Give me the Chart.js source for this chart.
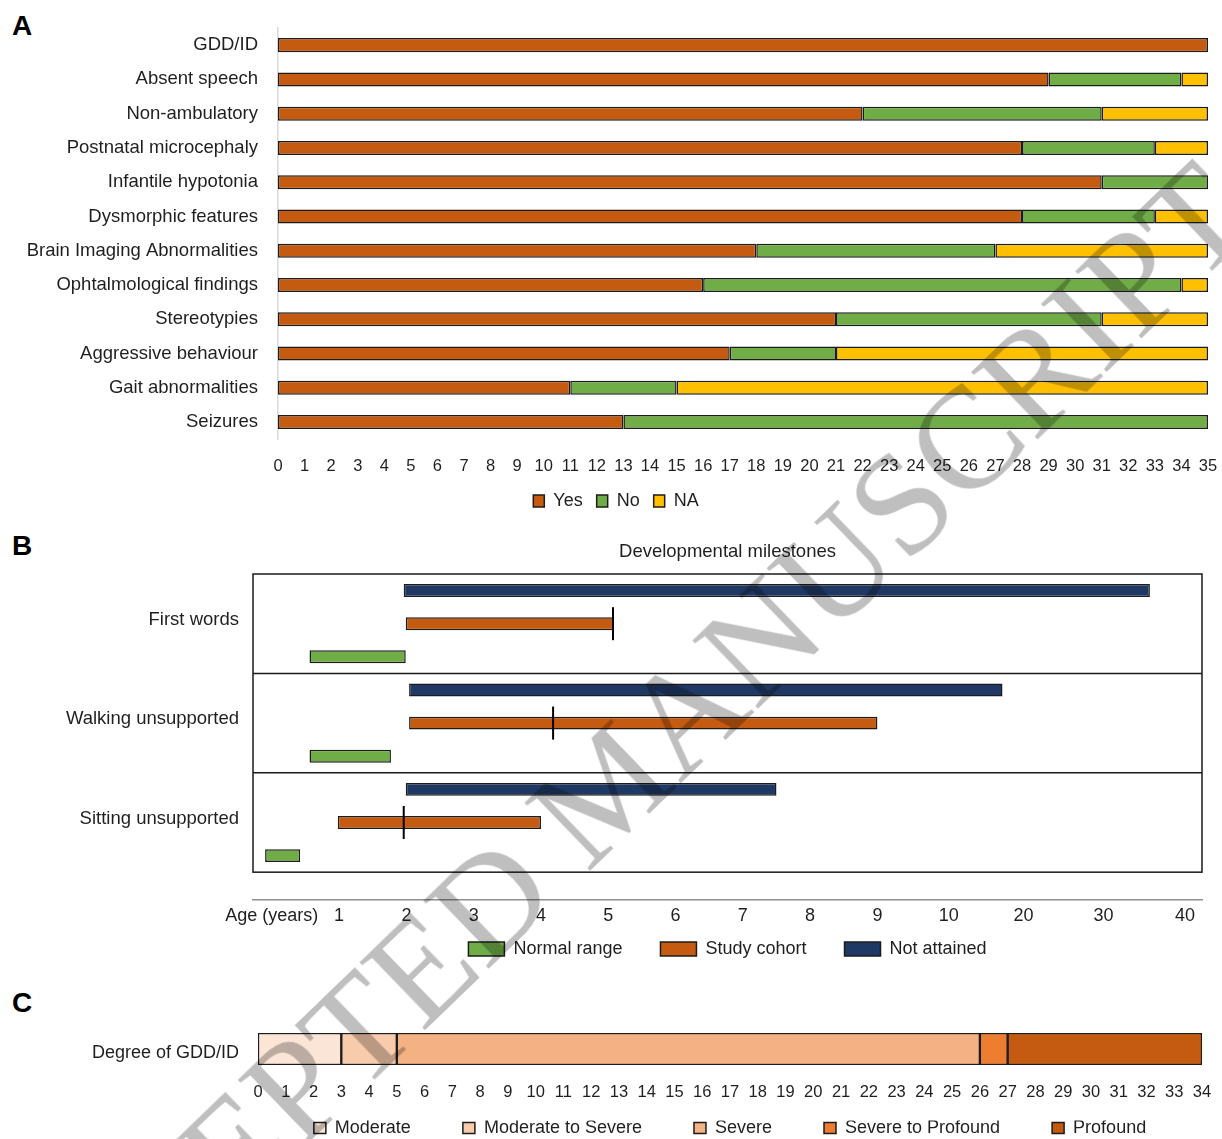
<!DOCTYPE html>
<html>
<head>
<meta charset="utf-8">
<script src="https://cdn.jsdelivr.net/npm/chart.js@4.4.1/dist/chart.umd.min.js"></script>
<style>
  html, body { margin: 0; padding: 0; background: #fff; width: 1222px; height: 1139px; overflow: hidden; }
  .panel { position: absolute; left: 0; width: 1222px; }
  .letter { position: absolute; left: 12px; font: bold 28px "Liberation Sans", Arial, sans-serif; color: #000; }
  #watermark {
    position: absolute; left: 607px; top: 787px;
    transform: translate(-50%, -50%) rotate(-44deg);
    font: 145px "Liberation Serif", "Times New Roman", serif;
    color: #bfbfbf; white-space: nowrap; line-height: 1;
    mix-blend-mode: multiply; pointer-events: none;
  }
</style>
</head>
<body>
<div class="letter" style="top:10px">A</div>
<div class="letter" style="top:530px">B</div>
<div class="letter" style="top:987px">C</div>

<div class="panel" style="top:0;height:520px"><canvas id="chartA"></canvas></div>
<div class="panel" style="top:530px;height:438px"><canvas id="chartB"></canvas></div>
<div class="panel" style="top:1020px;height:127px"><canvas id="chartC"></canvas></div>

<div id="watermark">ACCEPTED MANUSCRIPT</div>

<script>
// --- Données panneau A : caractéristiques cliniques (nombre de patients) ---
const featureLabels = ["GDD/ID", "Absent speech", "Non-ambulatory", "Postnatal microcephaly",
    "Infantile hypotonia", "Dysmorphic features", "Brain Imaging Abnormalities",
    "Ophtalmological findings", "Stereotypies", "Aggressive behaviour", "Gait abnormalities", "Seizures"];
const featureYes = [35, 29, 22, 28, 31, 28, 18, 16, 21, 17, 11, 13];
const featureNo  = [0, 5, 9, 5, 4, 5, 9, 18, 10, 4, 4, 22];
const featureNA  = [0, 1, 4, 2, 0, 2, 8, 1, 4, 14, 20, 0];
const patientMax = 35;

// --- Données panneau B : étapes du développement (âge en années) ---
const milestoneLabels = ["First words", "Walking unsupported", "Sitting unsupported"];
const normalStart = [0.56, 0.56, -0.1];
const normalEnd   = [1.99, 1.77, 0.42];
const cohortStart = [1.99, 2.04, 0.98];
const cohortEnd   = [5.08, 9.0, 4.0];
const cohortMedian = [5.07, 4.18, 1.96];
const notAttainedStart = [1.96, 2.04, 1.99];
const notAttainedEnd   = [35.7, 17.2, 7.5];
const ageTicks = [0, 1, 2, 3, 4, 5, 6, 7, 8, 9, 10, 20, 30, 40];
const ageTickLabels = ["Age (years)", "1", "2", "3", "4", "5", "6", "7", "8", "9", "10", "20", "30", "40"];

// --- Données panneau C : degré de GDD/ID ---
const gddLevels = ["Moderate", "Moderate to Severe", "Severe", "Severe to Profound", "Profound"];
const gddCounts = [3, 2, 21, 1, 7];
const gddMax = 34;

const FONT = '"Liberation Sans", Arial, Helvetica, sans-serif';
const TEXT = "#1f1f1f";
const EDGE = "#1c1c1c";
Chart.defaults.font.family = FONT;
Chart.defaults.color = TEXT;

// pas de marge automatique autour des axes (les libellés débordent volontairement)
const noEdgePadding = s => {
    s.paddingLeft = 0; s.paddingRight = 0; s.paddingTop = 0; s.paddingBottom = 0;
};
// titre de légende vide, sert seulement à remonter la ligne de légende
const legendLift = lift => ({
    display: true, text: "", font: { size: 10 }, padding: { top: 0, bottom: -(12 + lift) }
});

/* --- Échelle d'âge : linéaire jusqu'à 10 ans, puis compressée (10, 20, 30, 40) --- */
const ageAxisSpacing = [0, 1, 2, 3, 4, 5, 6, 7, 8, 9, 10.06, 11.17, 12.36, 13.57];

function ageToAxis(v) {
    const n = ageTicks.length;
    if (v <= ageTicks[0]) return ageAxisSpacing[0] + (v - ageTicks[0]);
    for (let i = 1; i < n; i++) {
        if (v <= ageTicks[i]) {
            const t = (v - ageTicks[i - 1]) / (ageTicks[i] - ageTicks[i - 1]);
            return ageAxisSpacing[i - 1] + t * (ageAxisSpacing[i] - ageAxisSpacing[i - 1]);
        }
    }
    const slope = (ageAxisSpacing[n - 1] - ageAxisSpacing[n - 2]) / (ageTicks[n - 1] - ageTicks[n - 2]);
    return ageAxisSpacing[n - 1] + (v - ageTicks[n - 1]) * slope;
}

class AgeScale extends Chart.LinearScale {
    static id = "age";
    static defaults = {};
    buildTicks() {
        return ageTicks.map(value => ({ value }));
    }
    getPixelForValue(value) {
        const a = ageToAxis(this.min);
        const b = ageToAxis(this.max);
        return this.getPixelForDecimal((ageToAxis(value) - a) / (b - a));
    }
}
Chart.register(AgeScale);

/* --- 1. Panneau A --- */
new Chart(document.getElementById("chartA"), {
    type: "bar",
    data: {
        labels: featureLabels,
        datasets: [
            { label: "Yes", data: featureYes, backgroundColor: "#C55A11" },
            { label: "No", data: featureNo, backgroundColor: "#70AD47" },
            { label: "NA", data: featureNA, backgroundColor: "#FFC000" }
        ]
    },
    options: {
        indexAxis: "y",
        animation: false,
        responsive: true,
        maintainAspectRatio: false,
        layout: { padding: { left: 24, right: 14, top: 28, bottom: 0 } },
        datasets: {
            bar: { borderColor: EDGE, borderWidth: 1.5, borderSkipped: false, categoryPercentage: 0.5, barPercentage: 0.82 }
        },
        scales: {
            x: {
                stacked: true, min: 0, max: patientMax,
                ticks: { stepSize: 1, autoSkip: false, maxRotation: 0, padding: 17, font: { size: 16.5 } },
                grid: { display: false, drawTicks: false },
                border: { display: false },
                afterFit: noEdgePadding
            },
            y: {
                stacked: true,
                ticks: { padding: 20, font: { size: 18.5 } },
                grid: { display: false, drawTicks: false },
                border: { color: "#d9d9d9", width: 1.5 },
                afterFit: s => { noEdgePadding(s); s.width = 254; }
            }
        },
        plugins: {
            legend: {
                position: "bottom",
                title: legendLift(15),
                labels: { boxWidth: 11, boxHeight: 12, padding: 14, font: { size: 18 } }
            },
            tooltip: { enabled: false }
        }
    }
});

/* --- 2. Panneau B --- */
// cadre et séparateurs entre les étapes
const milestoneFrame = {
    id: "milestoneFrame",
    beforeDatasetsDraw(chart) {
        const { ctx, chartArea, scales: { y } } = chart;
        const top = y.getPixelForValue(-0.5);
        const bottom = y.getPixelForValue(milestoneLabels.length - 0.5);
        ctx.save();
        ctx.strokeStyle = "#1a1a1a";
        ctx.lineWidth = 1.5;
        ctx.strokeRect(chartArea.left, top, chartArea.right - chartArea.left, bottom - top);
        for (let i = 1; i < milestoneLabels.length; i++) {
            const py = y.getPixelForValue(i - 0.5);
            ctx.beginPath();
            ctx.moveTo(chartArea.left, py);
            ctx.lineTo(chartArea.right, py);
            ctx.stroke();
        }
        ctx.restore();
    }
};

const rows = milestoneLabels.map((_, i) => i);

new Chart(document.getElementById("chartB"), {
    type: "bar",
    data: {
        datasets: [
            {
                label: "Not attained", backgroundColor: "#203864",
                data: rows.map(i => ({ x: [notAttainedStart[i], notAttainedEnd[i]], y: i }))
            },
            {
                label: "Study cohort", backgroundColor: "#C55A11",
                data: rows.map(i => ({ x: [cohortStart[i], cohortEnd[i]], y: i }))
            },
            {
                label: "Normal range", backgroundColor: "#70AD47",
                data: rows.map(i => ({ x: [normalStart[i], normalEnd[i]], y: i }))
            },
            {
                type: "scatter", label: "Median", order: -1,
                data: rows.map(i => ({ x: cohortMedian[i], y: i })),
                pointStyle: "line", pointRotation: 90, pointRadius: 16.5, pointHoverRadius: 16.5,
                pointBorderColor: "#000", pointBorderWidth: 2, showLine: false
            }
        ]
    },
    options: {
        indexAxis: "y",
        animation: false,
        responsive: true,
        maintainAspectRatio: false,
        layout: { padding: { left: 0, right: 20, top: 0, bottom: 0 } },
        datasets: {
            bar: { borderColor: EDGE, borderWidth: 1.5, borderSkipped: false, categoryPercentage: 1, barPercentage: 0.39 }
        },
        scales: {
            x: {
                type: "age", min: -0.28, max: 42.1,
                ticks: {
                    autoSkip: false, maxRotation: 0, padding: 5.2, font: { size: 18 },
                    callback: (v, i) => ageTickLabels[i]
                },
                grid: { display: false, drawTicks: false },
                border: { color: "#8f8f8f", width: 1.5 },
                afterFit: noEdgePadding
            },
            y: {
                type: "linear", reverse: true, offset: false,
                min: -0.5, max: milestoneLabels.length - 0.5 + 0.28,
                afterBuildTicks: s => { s.ticks = rows.map(i => ({ value: i })); },
                ticks: { padding: 14, labelOffset: -4, font: { size: 18.5 }, callback: v => milestoneLabels[v] },
                grid: { display: false, drawTicks: false },
                border: { display: false },
                afterFit: s => { noEdgePadding(s); s.width = 253; }
            }
        },
        plugins: {
            title: {
                display: true, fullSize: false, text: "Developmental milestones",
                font: { size: 18.5, weight: "normal" }, color: TEXT,
                padding: { top: 11, bottom: 10.8 }
            },
            legend: {
                position: "bottom", fullSize: false, reverse: true,
                title: legendLift(30),
                labels: {
                    boxWidth: 36, boxHeight: 14, padding: 38, font: { size: 18 },
                    filter: item => item.text !== "Median"
                }
            },
            tooltip: { enabled: false }
        }
    },
    plugins: [milestoneFrame]
});

/* --- 3. Panneau C --- */
const gddColors = ["#FBE5D6", "#F8CBAD", "#F4B183", "#ED7D31", "#C55A11"];

new Chart(document.getElementById("chartC"), {
    type: "bar",
    data: {
        labels: ["Degree of GDD/ID"],
        datasets: gddLevels.map((level, i) => ({
            label: level, data: [gddCounts[i]], backgroundColor: gddColors[i]
        }))
    },
    options: {
        indexAxis: "y",
        animation: false,
        responsive: true,
        maintainAspectRatio: false,
        layout: { padding: { left: 0, right: 20, top: 13, bottom: 0 } },
        datasets: {
            bar: { borderColor: EDGE, borderWidth: 1.5, borderSkipped: false, barThickness: 32 }
        },
        scales: {
            x: {
                stacked: true, min: 0, max: gddMax,
                ticks: { stepSize: 1, autoSkip: false, maxRotation: 0, padding: 17.8, font: { size: 16.5 } },
                grid: { display: false, drawTicks: false },
                border: { display: false },
                afterFit: noEdgePadding
            },
            y: {
                stacked: true,
                ticks: { padding: 19, labelOffset: 4, font: { size: 18 } },
                grid: { display: false, drawTicks: false },
                border: { display: false },
                afterFit: s => { noEdgePadding(s); s.width = 258; }
            }
        },
        plugins: {
            legend: {
                position: "bottom", fullSize: false,
                title: legendLift(53.4),
                labels: { boxWidth: 12, boxHeight: 11, padding: 52, font: { size: 18 } }
            },
            tooltip: { enabled: false }
        }
    }
});
</script>
</body>
</html>
